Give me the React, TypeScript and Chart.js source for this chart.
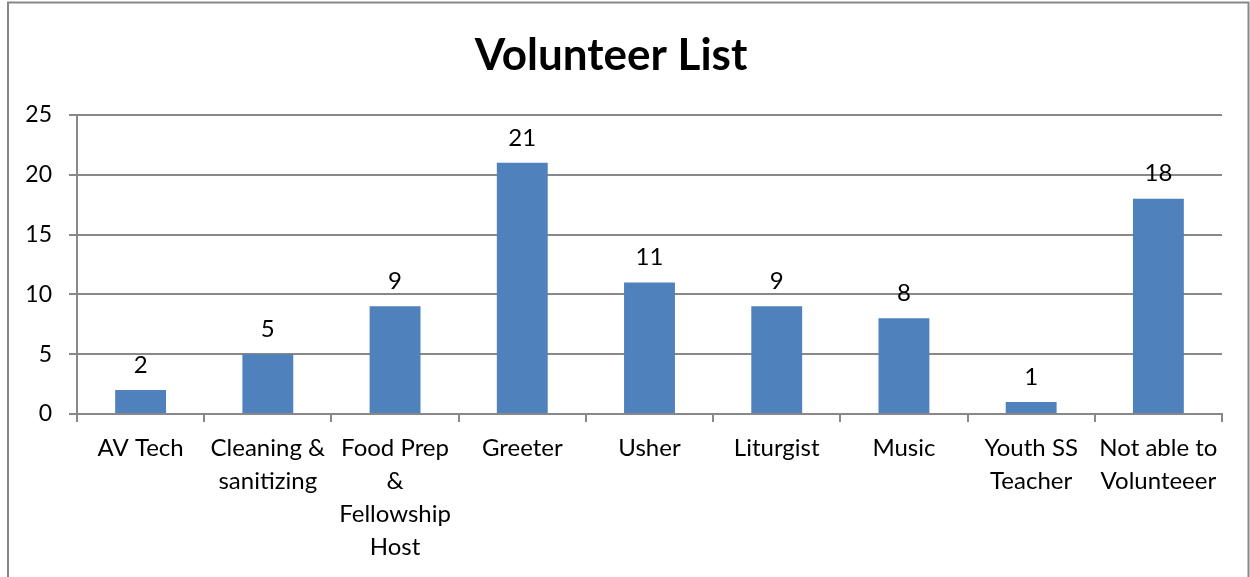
import React, { useEffect, useRef } from "react";
import { Chart, registerables } from "chart.js";

Chart.register(...registerables);

const categories: (string | string[])[] = [
  "AV Tech",
  ["Cleaning &", "sanitizing"],
  ["Food Prep", "&", "Fellowship", "Host"],
  "Greeter",
  "Usher",
  "Liturgist",
  "Music",
  ["Youth SS", "Teacher"],
  ["Not able to", "Volunteeer"],
];
const volunteers = [2, 5, 9, 21, 11, 9, 8, 1, 18];
const yTicks = [0, 5, 10, 15, 20, 25];
const titleText = "Volunteer List";

const FONT = "Lato, 'Open Sans', sans-serif";

const borderPlugin = {
  id: "frame",
  beforeDraw(chart: any) {
    const ctx = chart.ctx;
    ctx.save();
    ctx.fillStyle = "#ffffff";
    ctx.fillRect(0, 0, chart.width, chart.height);
    ctx.strokeStyle = "#878787";
    ctx.lineWidth = 2;
    ctx.strokeRect(8, 2.5, 1240.5, 700);
    ctx.restore();
  },
};

const labelPlugin = {
  id: "valueLabels",
  afterDatasetsDraw(chart: any) {
    const ctx = chart.ctx;
    const meta = chart.getDatasetMeta(0);
    const data = chart.data.datasets[0].data;
    ctx.save();
    ctx.font = `24px ${FONT}`;
    ctx.fillStyle = "#000";
    ctx.textAlign = "center";
    ctx.textBaseline = "middle";
    meta.data.forEach((bar: any, i: number) => {
      ctx.fillText(String(data[i]), bar.x, bar.y - 25);
    });
    ctx.restore();
  },
};

export default function App() {
  const ref = useRef<HTMLCanvasElement>(null);
  useEffect(() => {
    if (!ref.current) return;
    const chart = new Chart(ref.current, {
      type: "bar",
      data: {
        labels: categories,
        datasets: [
          {
            data: volunteers,
            backgroundColor: "#4F81BD",
            borderWidth: 0,
            barPercentage: 0.4,
            categoryPercentage: 1,
          },
        ],
      },
      options: {
        responsive: false,
        animation: false,
        layout: { padding: { left: 0, right: 28, top: 0, bottom: 0 } },
        plugins: {
          legend: { display: false },
          tooltip: { enabled: false },
          title: {
            display: true,
            text: titleText,
            color: "#000",
            font: { family: FONT, size: 44, weight: "bold", lineHeight: 1.2 },
            padding: { top: 29, bottom: 33.2 },
          },
        },
        scales: {
          x: {
            grid: {
              offset: true,
              drawOnChartArea: false,
              drawTicks: true,
              tickLength: 8,
              color: "#888",
              lineWidth: 2,
            },
            border: { display: true, color: "#888", width: 2 },
            ticks: {
              color: "#000",
              font: { family: FONT, size: 24, lineHeight: 1.375 },
              maxRotation: 0,
              minRotation: 0,
              autoSkip: false,
              padding: 10,
            },
            afterFit(scale: any) {
              scale.height = 163;
            },
          },
          y: {
            min: 0,
            max: 25,
            afterBuildTicks(scale: any) {
              scale.ticks = yTicks.map((v) => ({ value: v }));
            },
            grid: {
              color: "#888",
              lineWidth: 2,
              drawTicks: true,
              tickLength: 8,
            },
            border: { display: true, color: "#888", width: 2 },
            ticks: {
              color: "#000",
              font: { family: FONT, size: 23 },
              padding: 17,
            },
            afterFit(scale: any) {
              scale.width = 77;
            },
          },
        },
      },
      plugins: [borderPlugin, labelPlugin],
    });
    return () => chart.destroy();
  }, []);
  return (
    <canvas
      ref={ref}
      width={1250}
      height={577}
      style={{ position: "fixed", left: 0, top: 0, width: 1250, height: 577 }}
    />
  );
}
